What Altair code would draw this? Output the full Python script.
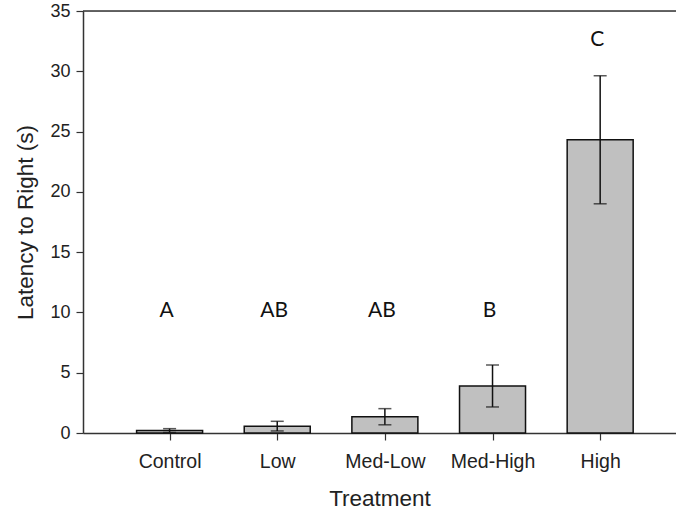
import altair as alt
import pandas as pd

treatments = ["Control", "Low", "Med-Low", "Med-High", "High"]
positions = [1, 2, 3, 4, 5]
means = [0.2, 0.57, 1.35, 3.9, 24.32]
errors = [0.16, 0.4, 0.67, 1.74, 5.31]
letters = ["A", "AB", "AB", "B", "C"]
letter_y = [10.1, 10.1, 10.1, 10.1, 32.6]

df = pd.DataFrame({
    "pos": positions,
    "treatment": treatments,
    "mean": means,
    "lo": [m - e for m, e in zip(means, errors)],
    "hi": [m + e for m, e in zip(means, errors)],
    "letter": letters,
    "ly": letter_y,
})

label_expr = "{" + ",".join(f"'{p}':'{t}'" for p, t in zip(positions, treatments)) + "}[datum.value]"

FONT = "Liberation Sans"

x = alt.X("pos:Q", scale=alt.Scale(domain=[0.242, 5.658], nice=False, zero=False),
          axis=alt.Axis(values=positions, labelExpr=label_expr, title="Treatment",
                        grid=False, tickSize=7, labelPadding=12.5, titlePadding=16,
                        labelFont=FONT, labelFontSize=19.5, labelColor="#222",
                        titleFont=FONT, titleFontSize=22.5, titleFontWeight="normal",
                        titleColor="#222", domainColor="#333", tickColor="#333",
                        domainWidth=1.5, tickWidth=1.2, labelFlush=False))
y_scale = alt.Scale(domain=[0, 35], nice=False)
y = alt.Y("mean:Q", scale=y_scale,
          axis=alt.Axis(values=[0, 5, 10, 15, 20, 25, 30, 35], title="Latency to Right (s)",
                        grid=False, tickSize=7, labelPadding=6, titlePadding=12.5,
                        labelFont=FONT, labelFontSize=18, labelColor="#222",
                        titleFont=FONT, titleFontSize=22.5, titleFontWeight="normal",
                        titleColor="#222", domainColor="#333", tickColor="#333",
                        domainWidth=1.5, tickWidth=1.2, labelFlush=False))

base = alt.Chart(df)

bars = base.mark_bar(size=66, color="#c0c0c0", stroke="#111", strokeWidth=1.5).encode(x=x, y=y)

err = base.mark_rule(color="#111", strokeWidth=1.5).encode(
    x="pos:Q", y=alt.Y("lo:Q", scale=y_scale), y2="hi:Q")
cap_hi = base.mark_tick(orient="horizontal", size=13, thickness=1.5, color="#111").encode(
    x="pos:Q", y=alt.Y("hi:Q", scale=y_scale))
cap_lo = base.mark_tick(orient="horizontal", size=13, thickness=1.5, color="#111").encode(
    x="pos:Q", y=alt.Y("lo:Q", scale=y_scale))

text = base.mark_text(font="Lato", fontSize=21, color="#111", baseline="middle", dx=-3).encode(
    x="pos:Q", y=alt.Y("ly:Q", scale=y_scale), text="letter:N")

top = alt.Chart(pd.DataFrame({"v": [35]})).mark_rule(color="#333", strokeWidth=1.5).encode(
    y=alt.Y("v:Q", scale=y_scale))

chart = alt.layer(bars, err, cap_hi, cap_lo, text, top).properties(
    width=593, height=422,
    autosize=alt.AutoSizeParams(type="none"),
    padding={"left": 83, "top": 11, "right": 0, "bottom": 81},
).configure_view(stroke=None).configure(background="white")

chart.save("out.html", embed_options={"renderer": "svg", "actions": False})
